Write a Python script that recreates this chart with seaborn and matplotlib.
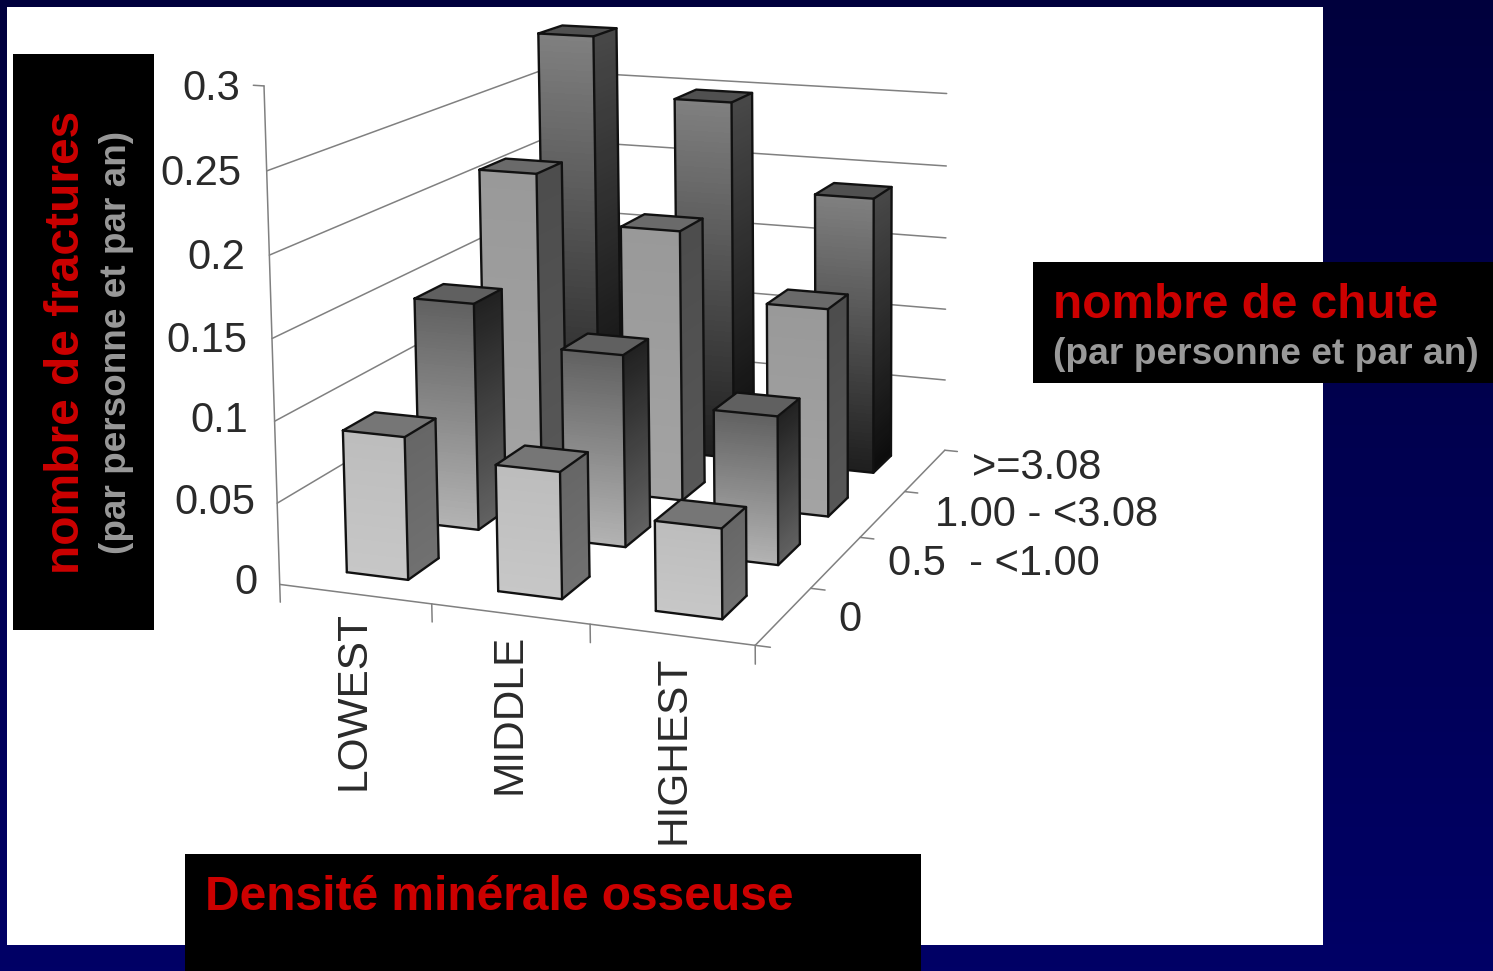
import numpy as np
import matplotlib
matplotlib.use("Agg")
import matplotlib.pyplot as plt
from matplotlib.patches import Rectangle
from mpl_toolkits.mplot3d.art3d import Line3DCollection
import seaborn as sns

sns.set_theme(style="white")
plt.rcParams['font.family'] = ['Liberation Sans', 'DejaVu Sans']

bmd_groups = ["LOWEST", "MIDDLE", "HIGHEST"]
fall_groups = ["0", "0.5  - <1.00", "1.00 - <3.08", ">=3.08"]
z_ticks = [0, 0.05, 0.1, 0.15, 0.2, 0.25, 0.3]
z_labels = ["0", "0.05", "0.1", "0.15", "0.2", "0.25", "0.3"]
rate_fall0 = [0.088, 0.077, 0.054]
rate_fall1 = [0.146, 0.122, 0.093]
rate_fall2 = [0.210, 0.179, 0.136]
rate_fall3 = [0.287, 0.247, 0.188]
rates = [rate_fall0, rate_fall1, rate_fall2, rate_fall3]

W, H = 1493, 971
fig = plt.figure(figsize=(W / 100, H / 100), dpi=100)

# navy backdrop and white panel
bg = fig.add_axes([0, 0, 1, 1], zorder=0)
bg.axis("off")
grad = np.linspace(0, 1, 256)[:, None]
bg.imshow(np.dstack([0 * grad, 0 * grad, 0.24 + 0.16 * grad]),
          extent=[0, W, H, 0], aspect="auto")
bg.set_xlim(0, W); bg.set_ylim(H, 0)
bg.add_patch(Rectangle((7, 7), 1316, 938, facecolor="white", lw=0))

# square 3D axes, so its 2D view maps evenly onto pixels
L, T, S = 100, 0, 1000
ax = fig.add_axes([L / W, 1 - (T + S) / H, S / W, S / H], projection="3d",
                  computed_zorder=False, zorder=1)
ax.patch.set_alpha(0)
ax.set_axis_off()
x_max, y_max, z_max = 3.0, 4.0, 0.3
ax.set_xlim(0, x_max); ax.set_ylim(0, y_max); ax.set_zlim(0, z_max)

# camera calibrated on the corners of the floor and walls (box units -> pixels)
box_pts = np.array([[0, 0, 0], [1, 0, 0], [1, 1, 0], [0, 1, 0],
                    [0, 0, 1], [0, 1, 5 / 6], [1, 1, 5 / 6]], float)
px_pts = np.array([[280, 578], [757, 650], [945, 445], [545, 417],
                   [262, 88], [545, 67], [945, 95]], float)


def camera_matrix():
    vl = ax.viewLim
    u = vl.x0 + (px_pts[:, 0] - L) / S * (vl.x1 - vl.x0)
    v = vl.y0 + (T + S - px_pts[:, 1]) / S * (vl.y1 - vl.y0)
    rows = []
    for (X, Y, Z), a, b in zip(box_pts, u, v):
        rows.append([X, Y, Z, 1, 0, 0, 0, 0, -a * X, -a * Y, -a * Z, -a])
        rows.append([0, 0, 0, 0, X, Y, Z, 1, -b * X, -b * Y, -b * Z, -b])
    p = np.linalg.svd(np.array(rows))[2][-1].reshape(3, 4)
    m = np.vstack([p[0], p[1], [0, 0, 0, p[2, 3]], p[2]])
    return m @ np.diag([1 / x_max, 1 / y_max, 1 / z_max, 1])


cam = camera_matrix()
ax.get_proj = lambda: cam


def stroke(paths, color, lw, zorder):
    # paths: list of (xs, ys, zs) polylines in data units
    segs = [np.column_stack(p) for p in paths]
    ax.add_collection3d(Line3DCollection(segs, colors=color, linewidths=lw, zorder=zorder,
                                         capstyle="round", joinstyle="round"),
                        autolim=False)


# wall grid, axis frame and tick marks
frame = []
for z in z_ticks[1:6]:
    frame.append(([0, 0], [0, y_max], [z, z]))
    frame.append(([0, x_max], [y_max, y_max], [z, z]))
frame.append(([0, 0], [0, 0], [0, z_max]))
frame.append(([0, x_max], [0, 0], [0, 0]))
frame.append(([x_max, x_max], [0, y_max], [0, 0]))
frame.append(([0, -0.07], [0, 0], [z_max, z_max]))
for x in range(4):
    frame.append(([x, x], [0, 0], [0, -0.011]))
for y in range(5):
    frame.append(([x_max, x_max + 0.09], [y, y], [0, 0]))
stroke(frame, "#808080", 1.1, 1)

bw, bd = 0.41, 0.42
n_grad = 70
edge = "#111111"


def ramp(bottom, top):
    # grey ramp for a face, listed from the floor upward
    return np.array(sns.blend_palette([str(bottom), str(top)], n_grad))[:, None, :3]


def bar(ix, iy, h, order, front, side, roof):
    x0, x1 = ix + 0.48 - bw / 2, ix + 0.48 + bw / 2
    y0, y1 = iy + 0.54 - bd / 2, iy + 0.54 + bd / 2
    zz = np.linspace(0, h, n_grad + 1)
    kw = dict(rstride=1, cstride=1, shade=False, linewidth=0, antialiased=False)
    X, Z = np.meshgrid([x0, x1], zz)
    ax.plot_surface(X, np.full_like(X, y0), Z, facecolors=ramp(*front), zorder=order, **kw)
    Y, Z = np.meshgrid([y0, y1], zz)
    ax.plot_surface(np.full_like(Y, x1), Y, Z, facecolors=ramp(*side), zorder=order + 0.1, **kw)
    X, Y = np.meshgrid([x0, x1], [y0, y1])
    ax.plot_surface(X, Y, np.full_like(X, h), color=roof, zorder=order + 0.2,
                    rstride=1, cstride=1, shade=False, linewidth=0)
    stroke([([x0, x0], [y0, y0], [0, h]),
            ([x1, x1], [y0, y0], [0, h]),
            ([x1, x1], [y1, y1], [0, h]),
            ([x0, x1, x1], [y0, y0, y1], [0, 0, 0]),
            ([x0, x1, x1, x0, x0], [y0, y0, y1, y1, y0], [h] * 5)],
           edge, 1.7, order + 0.3)


# face tones per fall group: (floor, top) for front and side, then the roof
tones = [
    ((0.78, 0.74), (0.44, 0.40), "#767676"),
    ((0.70, 0.38), (0.38, 0.13), "#606060"),
    ((0.64, 0.60), (0.34, 0.30), "#6a6a6a"),
    ((0.12, 0.50), (0.05, 0.28), "#505050"),
]
order = 10
for iy in range(3, -1, -1):
    (f0, f1), (s0, s1), roof = tones[iy]
    for ix in range(3):
        bar(ix, iy, rates[iy][ix], order, (f"{f0}", f"{f1}"), (f"{s0}", f"{s1}"), roof)
        order += 1

# tick labels and black caption boxes sit in pixel space
top = fig.add_axes([0, 0, 1, 1], zorder=5)
top.axis("off"); top.patch.set_alpha(0)
top.set_xlim(0, W); top.set_ylim(H, 0)
ink = "#2a2a2a"
for lab, px, py in zip(z_labels, [258, 255, 248, 247, 245, 242, 240],
                       [583, 503, 421, 341, 258, 174, 89]):
    top.text(px, py, lab, ha="right", va="center", fontsize=30, color=ink)
for lab, px, py in zip(fall_groups, [838, 888, 935, 972], [620, 564, 515, 468]):
    top.text(px, py, lab, ha="left", va="center", fontsize=30, color=ink)
for lab, px, py in zip(bmd_groups, [354, 510, 674], [701, 714, 750]):
    top.text(px, py, lab, rotation=90, ha="center", va="center", fontsize=30.5, color=ink)

for x, y, w, h in [(13, 54, 141, 576), (1033, 262, 460, 121), (185, 854, 736, 117)]:
    top.add_patch(Rectangle((x, y), w, h, facecolor="black", lw=0))
red, grey = "#cc0000", "#999999"
top.text(67, 342, "nombre de fractures", rotation=90, color=red, fontsize=34.5,
         fontweight="bold", ha="center", va="center")
top.text(117, 342, "(par personne et par an)", rotation=90, color=grey, fontsize=26.6,
         fontweight="bold", ha="center", va="center")
top.text(1053, 305, "nombre de chute", color=red, fontsize=34.4, fontweight="bold",
         ha="left", va="center")
top.text(1053, 355, "(par personne et par an)", color=grey, fontsize=26.7, fontweight="bold",
         ha="left", va="center")
top.text(205, 898, "Densité minérale osseuse", color=red, fontsize=34.5, fontweight="bold",
         ha="left", va="center")

fig.savefig("out.png", dpi=100, facecolor="#000050")
